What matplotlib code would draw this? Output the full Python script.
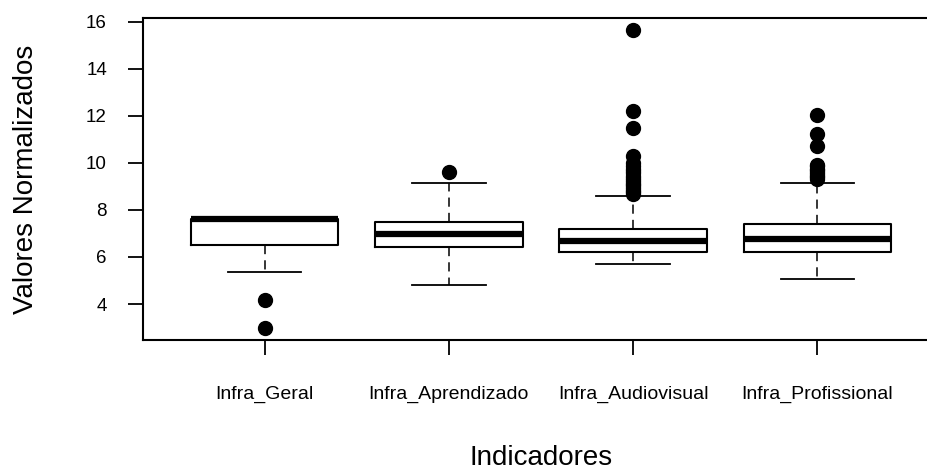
import matplotlib.pyplot as plt

plt.rcParams["font.family"] = ["Liberation Sans", "DejaVu Sans"]

indicadores = ["Infra_Geral", "Infra_Aprendizado", "Infra_Audiovisual", "Infra_Profissional"]

# quartis, medianas e limites dos bigodes
q1 = [6.51, 6.44, 6.21, 6.21]
mediana = [7.63, 6.97, 6.68, 6.75]
q3 = [7.63, 7.49, 7.18, 7.42]
bigode_inf = [5.34, 4.81, 5.70, 5.05]
bigode_sup = [7.63, 9.14, 8.61, 9.14]

# valores discrepantes
outliers = [
    [4.17, 2.98],
    [9.60],
    [8.68, 8.75, 8.82, 8.90, 8.97, 9.05, 9.12, 9.20, 9.28, 9.36, 9.45, 9.55,
     9.65, 9.75, 9.85, 10.00, 10.30, 11.48, 12.21, 15.65],
    [9.32, 9.38, 9.45, 9.52, 9.60, 9.68, 9.76, 9.85, 9.93, 10.72, 11.21, 12.02],
]

stats = []
for i, nome in enumerate(indicadores):
    stats.append({
        "label": nome,
        "q1": q1[i], "med": mediana[i], "q3": q3[i],
        "whislo": bigode_inf[i], "whishi": bigode_sup[i],
        "fliers": outliers[i],
    })

fig = plt.figure(figsize=(9.28, 4.72), dpi=100)
ax = fig.add_axes([143 / 928, 1 - 340 / 472, 796 / 928, 322 / 472])

ax.bxp(
    stats,
    positions=[1, 2, 3, 4],
    widths=0.8,
    capwidths=0.4,
    boxprops=dict(color="black", linewidth=1.5),
    medianprops=dict(color="black", linewidth=4.5, solid_capstyle="butt"),
    whiskerprops=dict(color="black", linewidth=1.1, linestyle=(0, (6, 4))),
    capprops=dict(color="black", linewidth=1.3),
    flierprops=dict(marker="o", markerfacecolor="black", markeredgecolor="black",
                    markersize=10),
)

ax.set_xlim(0.34, 4.66)
ax.set_ylim(2.47, 16.16)
ax.set_yticks([4, 6, 8, 10, 12, 14, 16])
ax.set_xticks([1, 2, 3, 4])
ax.set_xticklabels(indicadores)

for s in ax.spines.values():
    s.set_linewidth(1.5)
ax.tick_params(axis="both", length=11, width=1.3, labelsize=13.5)
ax.tick_params(axis="x", labelsize=14, pad=22)
ax.tick_params(axis="y", pad=15)

ax.set_xlabel("Indicadores", fontsize=20, va="center")
ax.set_ylabel("Valores Normalizados", fontsize=20, va="center")
ax.xaxis.set_label_coords(0.5, -0.365)
ax.yaxis.set_label_coords(-0.147, 0.5)

fig.savefig("out.png", dpi=100)
